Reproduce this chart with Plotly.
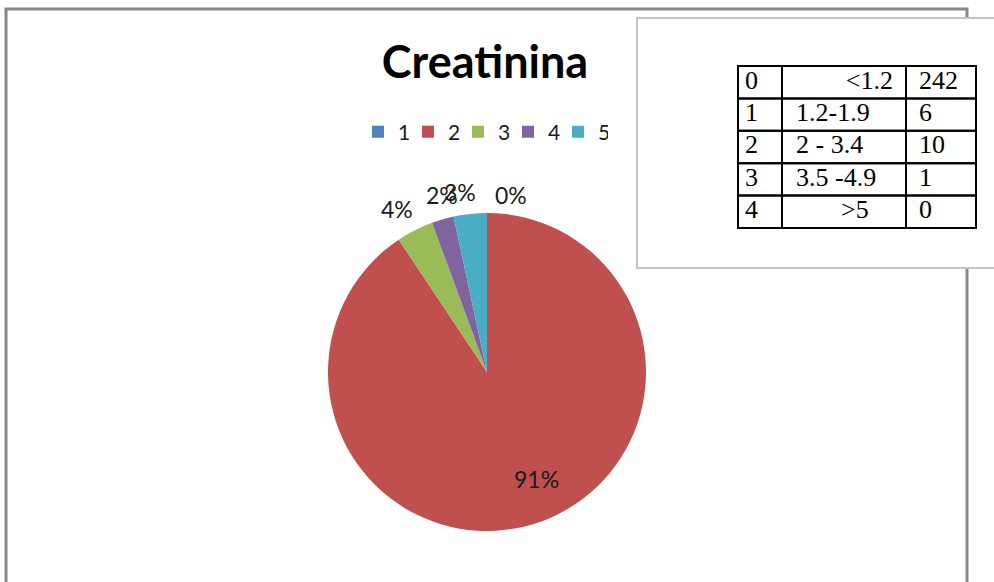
import plotly.graph_objects as go

# pie data (category, count)
PIE_LABELS = ["1", "2", "3", "4", "5"]
PIE_VALUES = [0, 242, 10, 6, 9]
PIE_COLORS = ["#4F81BD", "#C0504D", "#9BBB59", "#8064A2", "#4BACC6"]

# side table
TABLE_CODES = ["0", "1", "2", "3", "4"]
TABLE_RANGES = ["<1.2", "1.2-1.9", "2 - 3.4", "3.5 -4.9", ">5"]
TABLE_COUNTS = [242, 6, 10, 1, 0]

W, H = 994, 582
COL_W = [44, 124, 70]  # table column widths in px
ROW_H = 32.4


def px(x, y):
    # pixel position -> paper coords
    return x / W, 1 - y / H


fig = go.Figure()

fig.add_trace(
    go.Pie(
        labels=PIE_LABELS,
        values=PIE_VALUES,
        sort=False,
        direction="clockwise",
        rotation=0,
        marker=dict(colors=PIE_COLORS, line=dict(width=0)),
        textinfo="none",
        hoverinfo="label+value+percent",
        domain=dict(x=[328 / W, 646 / W], y=[1 - 531 / H, 1 - 213 / H]),
        showlegend=True,
    )
)

# percent labels placed like the original
total = sum(PIE_VALUES)
label_pos = [(511, 195), (536, 479), (397, 209), (442, 195), (460, 192)]
for v, (lx, ly) in zip(PIE_VALUES, label_pos):
    ax, ay = px(lx, ly)
    fig.add_annotation(
        x=ax, y=ay, xref="paper", yref="paper",
        xanchor="center", yanchor="middle",
        text=f"{round(v / total * 100)}%",
        showarrow=False,
        font=dict(family="Lato", size=23, color="#1a1a1a"),
    )

# --- the little word table, drawn on a hidden axis (x in px, y in rows) ---
col_x = [0, COL_W[0], COL_W[0] + COL_W[1], sum(COL_W)]
n_rows = len(TABLE_CODES)
grid = []
for r in range(n_rows):
    for c in range(3):
        grid.append(dict(
            type="rect", xref="x", yref="y",
            x0=col_x[c], x1=col_x[c + 1], y0=r, y1=r + 1,
            line=dict(color="black", width=2), layer="above",
        ))

tx, ty, tt, tpos = [], [], [], []
for r in range(n_rows):
    # code column
    tx.append(col_x[0] + 7); ty.append(r + 0.5); tt.append(TABLE_CODES[r]); tpos.append("middle right")
    # range column: "<1.2" was pushed right in the doc, ">5" indented
    rng = TABLE_RANGES[r]
    if rng.startswith("<"):
        tx.append(col_x[2] - 13); tpos.append("middle left")
    elif rng.startswith(">"):
        tx.append(col_x[1] + 59); tpos.append("middle right")
    else:
        tx.append(col_x[1] + 14); tpos.append("middle right")
    ty.append(r + 0.5); tt.append(rng)
    # count column
    tx.append(col_x[2] + 13); ty.append(r + 0.5); tt.append(str(TABLE_COUNTS[r])); tpos.append("middle right")

fig.add_trace(
    go.Scatter(
        x=tx, y=ty, text=tt, mode="text",
        textposition=tpos,
        textfont=dict(family="Liberation Serif", size=26, color="black"),
        hoverinfo="skip", showlegend=False, cliponaxis=False,
    )
)

# pad the axes a little so the outer grid lines are not clipped
pad_x, pad_y = 3, 0.1
fig.update_xaxes(
    domain=[(738 - pad_x) / W, (976 + pad_x) / W],
    range=[-pad_x, sum(COL_W) + pad_x],
    visible=False, fixedrange=True,
)
fig.update_yaxes(
    domain=[1 - (228 + pad_y * ROW_H) / H, 1 - (66 - pad_y * ROW_H) / H],
    range=[n_rows + pad_y, -pad_y],
    visible=False, fixedrange=True,
)

fig.update_layout(
    width=W,
    height=H,
    margin=dict(l=0, r=0, t=0, b=0),
    paper_bgcolor="white",
    plot_bgcolor="white",
    title=dict(
        text="<b>Creatinina</b>",
        x=485 / W,
        y=1 - 62 / H,
        xanchor="center",
        yanchor="middle",
        font=dict(family="Lato", size=45, color="black"),
    ),
    legend=dict(
        orientation="h",
        x=483 / W,
        y=1 - 132 / H,
        xanchor="center",
        yanchor="middle",
        font=dict(family="Lato", size=21, color="#1a1a1a"),
        traceorder="normal",
        entrywidth=5,
        entrywidthmode="pixels",
    ),
    shapes=[
        # outer chart frame
        dict(type="rect", xref="paper", yref="paper",
             x0=6 / W, x1=967 / W, y0=-0.05, y1=1 - 9 / H,
             line=dict(color="#888888", width=3), layer="below"),
        # white box holding the table
        dict(type="rect", xref="paper", yref="paper",
             x0=637 / W, x1=1.02, y0=1 - 268 / H, y1=1 - 18 / H,
             fillcolor="white", line=dict(color="#c4c4c4", width=2), layer="below"),
    ] + grid,
)

# page body has an 8px margin by default; drop it so pixels line up
fig.write_html(
    "out.html",
    config={"displayModeBar": False},
    post_script="document.body.style.margin='0';",
)
